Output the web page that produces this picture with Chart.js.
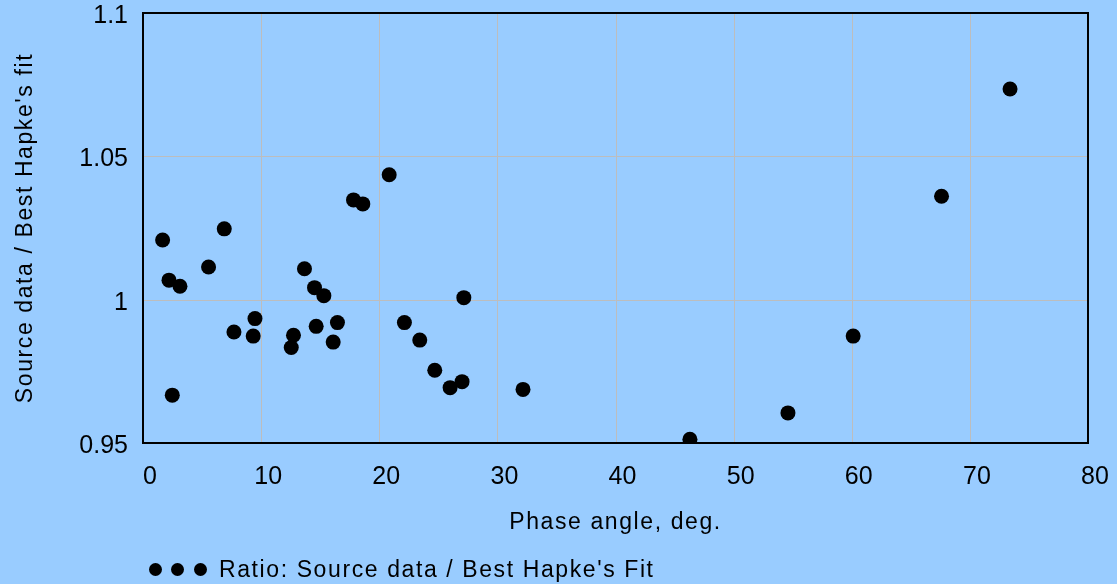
<!DOCTYPE html>
<html>
<head>
<meta charset="utf-8">
<script src="https://cdn.jsdelivr.net/npm/chart.js@4.4.1/dist/chart.umd.min.js"></script>
<style>
  html, body { margin: 0; padding: 0; background: #99ccff; }
  #wrap { position: relative; width: 1117px; height: 584px; }
  #legend { position: absolute; left: 148px; top: 556px; height: 26px; line-height: 26px;
            font: 23px "Liberation Sans", Arial, sans-serif; letter-spacing: 1.6px; color: #000; white-space: nowrap; }
  #legend .dot { position: absolute; top: 7px; width: 13px; height: 13px; border-radius: 50%; background: #000; }
  #legend .txt { position: absolute; left: 71px; top: 0; }
</style>
</head>
<body>
<div id="wrap">
  <canvas id="chart-ratio"></canvas>
  <div id="legend">
    <span class="dot" style="left:0.5px"></span>
    <span class="dot" style="left:22.5px"></span>
    <span class="dot" style="left:45.5px"></span>
    <span class="txt">Ratio: Source data / Best Hapke's Fit</span>
  </div>
</div>
<script>
// valeurs
const phaseAngle = [1.66, 2.2, 2.48, 3.13, 5.55, 6.88, 7.7, 9.33, 9.48, 12.55, 12.74, 13.67, 14.52, 14.66, 15.31, 16.1,
  16.46, 17.82, 18.61, 20.84, 22.13, 23.43, 24.7, 26.0, 27.01, 27.16, 32.17, 46.3, 54.6, 60.12, 67.6, 73.4];
const ratio = [1.0208, 1.0068, 0.9667, 1.0047, 1.0114, 1.0247, 0.9887, 0.9873, 0.9934, 0.9833, 0.9876, 1.0108, 1.0042, 0.9907, 1.0014, 0.9852,
  0.992, 1.0348, 1.0334, 1.0436, 0.992, 0.9859, 0.9754, 0.9693, 0.9714, 1.0007, 0.9687, 0.9513, 0.9605, 0.9873, 1.0361, 1.0735];
const xTicks = [0, 10, 20, 30, 40, 50, 60, 70, 80];
const yTicks = [0.95, 1, 1.05, 1.1];
const yTickLabels = ['0.95', '1', '1.05', '1.1'];

const tickFont = { family: '"Liberation Sans", Arial, sans-serif', size: 25 };
const titleFont = { family: '"Liberation Sans", Arial, sans-serif', size: 23 };

// titres espacés, graduations normales
const spacing = {
  id: 'spacing',
  beforeDraw(chart) { chart.ctx.letterSpacing = '1.6px'; },
  beforeDatasetsDraw(chart) { chart.ctx.letterSpacing = '0px'; }
};

// grille grise, placée par les échelles
const grille = {
  id: 'grille',
  beforeDatasetsDraw(chart) {
    const a = chart.chartArea, ctx = chart.ctx;
    const sx = chart.scales.x, sy = chart.scales.y;
    ctx.save();
    ctx.strokeStyle = '#bdbdbd';
    ctx.lineWidth = 1;
    ctx.beginPath();
    xTicks.forEach(v => {
      const p = Math.round(sx.getPixelForValue(v)) + 0.5;
      ctx.moveTo(p, a.top); ctx.lineTo(p, a.bottom);
    });
    yTicks.forEach(v => {
      const p = Math.round(sy.getPixelForValue(v)) + 0.5;
      ctx.moveTo(a.left, p); ctx.lineTo(a.right, p);
    });
    ctx.stroke();
    ctx.restore();
  }
};

// cadre noir autour de la zone de tracé
const cadre = {
  id: 'cadre',
  afterDatasetsDraw(chart) {
    const a = chart.chartArea, ctx = chart.ctx;
    ctx.save();
    ctx.strokeStyle = '#000';
    ctx.lineWidth = 2;
    ctx.strokeRect(a.left, a.top, a.right - a.left, a.bottom - a.top);
    ctx.restore();
  }
};

const points = phaseAngle.map((x, i) => ({ x: x, y: ratio[i] }));

new Chart(document.getElementById('chart-ratio'), {
  type: 'scatter',
  data: {
    datasets: [{
      label: "Ratio: Source data / Best Hapke's Fit",
      data: points,
      backgroundColor: '#000',
      borderWidth: 0,
      pointRadius: 7.5,
      pointHoverRadius: 7.5,
      clip: 0
    }]
  },
  options: {
    responsive: true,
    maintainAspectRatio: false,
    animation: false,
    layout: { padding: { top: 13, right: 29, bottom: 41, left: 0 } },
    plugins: { legend: { display: false }, tooltip: { enabled: false } },
    scales: {
      x: {
        type: 'linear', min: 0, max: 80,
        afterBuildTicks: s => { s.ticks = xTicks.map(v => ({ value: v })); },
        afterFit: s => { s.height = 100; s.paddingLeft = 0; s.paddingRight = 0; },
        grid: { display: false },
        border: { display: false },
        ticks: { font: tickFont, color: '#000', padding: 11, labelOffset: 7, maxRotation: 0, z: 1,
                 callback: v => String(v) },
        title: { display: true, text: 'Phase angle, deg.', font: titleFont, color: '#000',
                 padding: { top: 0, bottom: 6.5 } }
      },
      y: {
        type: 'linear', min: 0.95, max: 1.1,
        afterBuildTicks: s => { s.ticks = yTicks.map(v => ({ value: v })); },
        afterFit: s => { s.width = 143; s.paddingTop = 0; s.paddingBottom = 0; },
        grid: { display: false },
        border: { display: false },
        ticks: { font: tickFont, color: '#000', padding: 7, labelOffset: 3, z: 1,
                 callback: (v, i) => yTickLabels[i] },
        title: { display: true, text: "Source data / Best Hapke's fit", font: titleFont, color: '#000',
                 padding: { top: 11.5, bottom: 0 } }
      }
    }
  },
  plugins: [spacing, grille, cadre]
});
</script>
</body>
</html>
